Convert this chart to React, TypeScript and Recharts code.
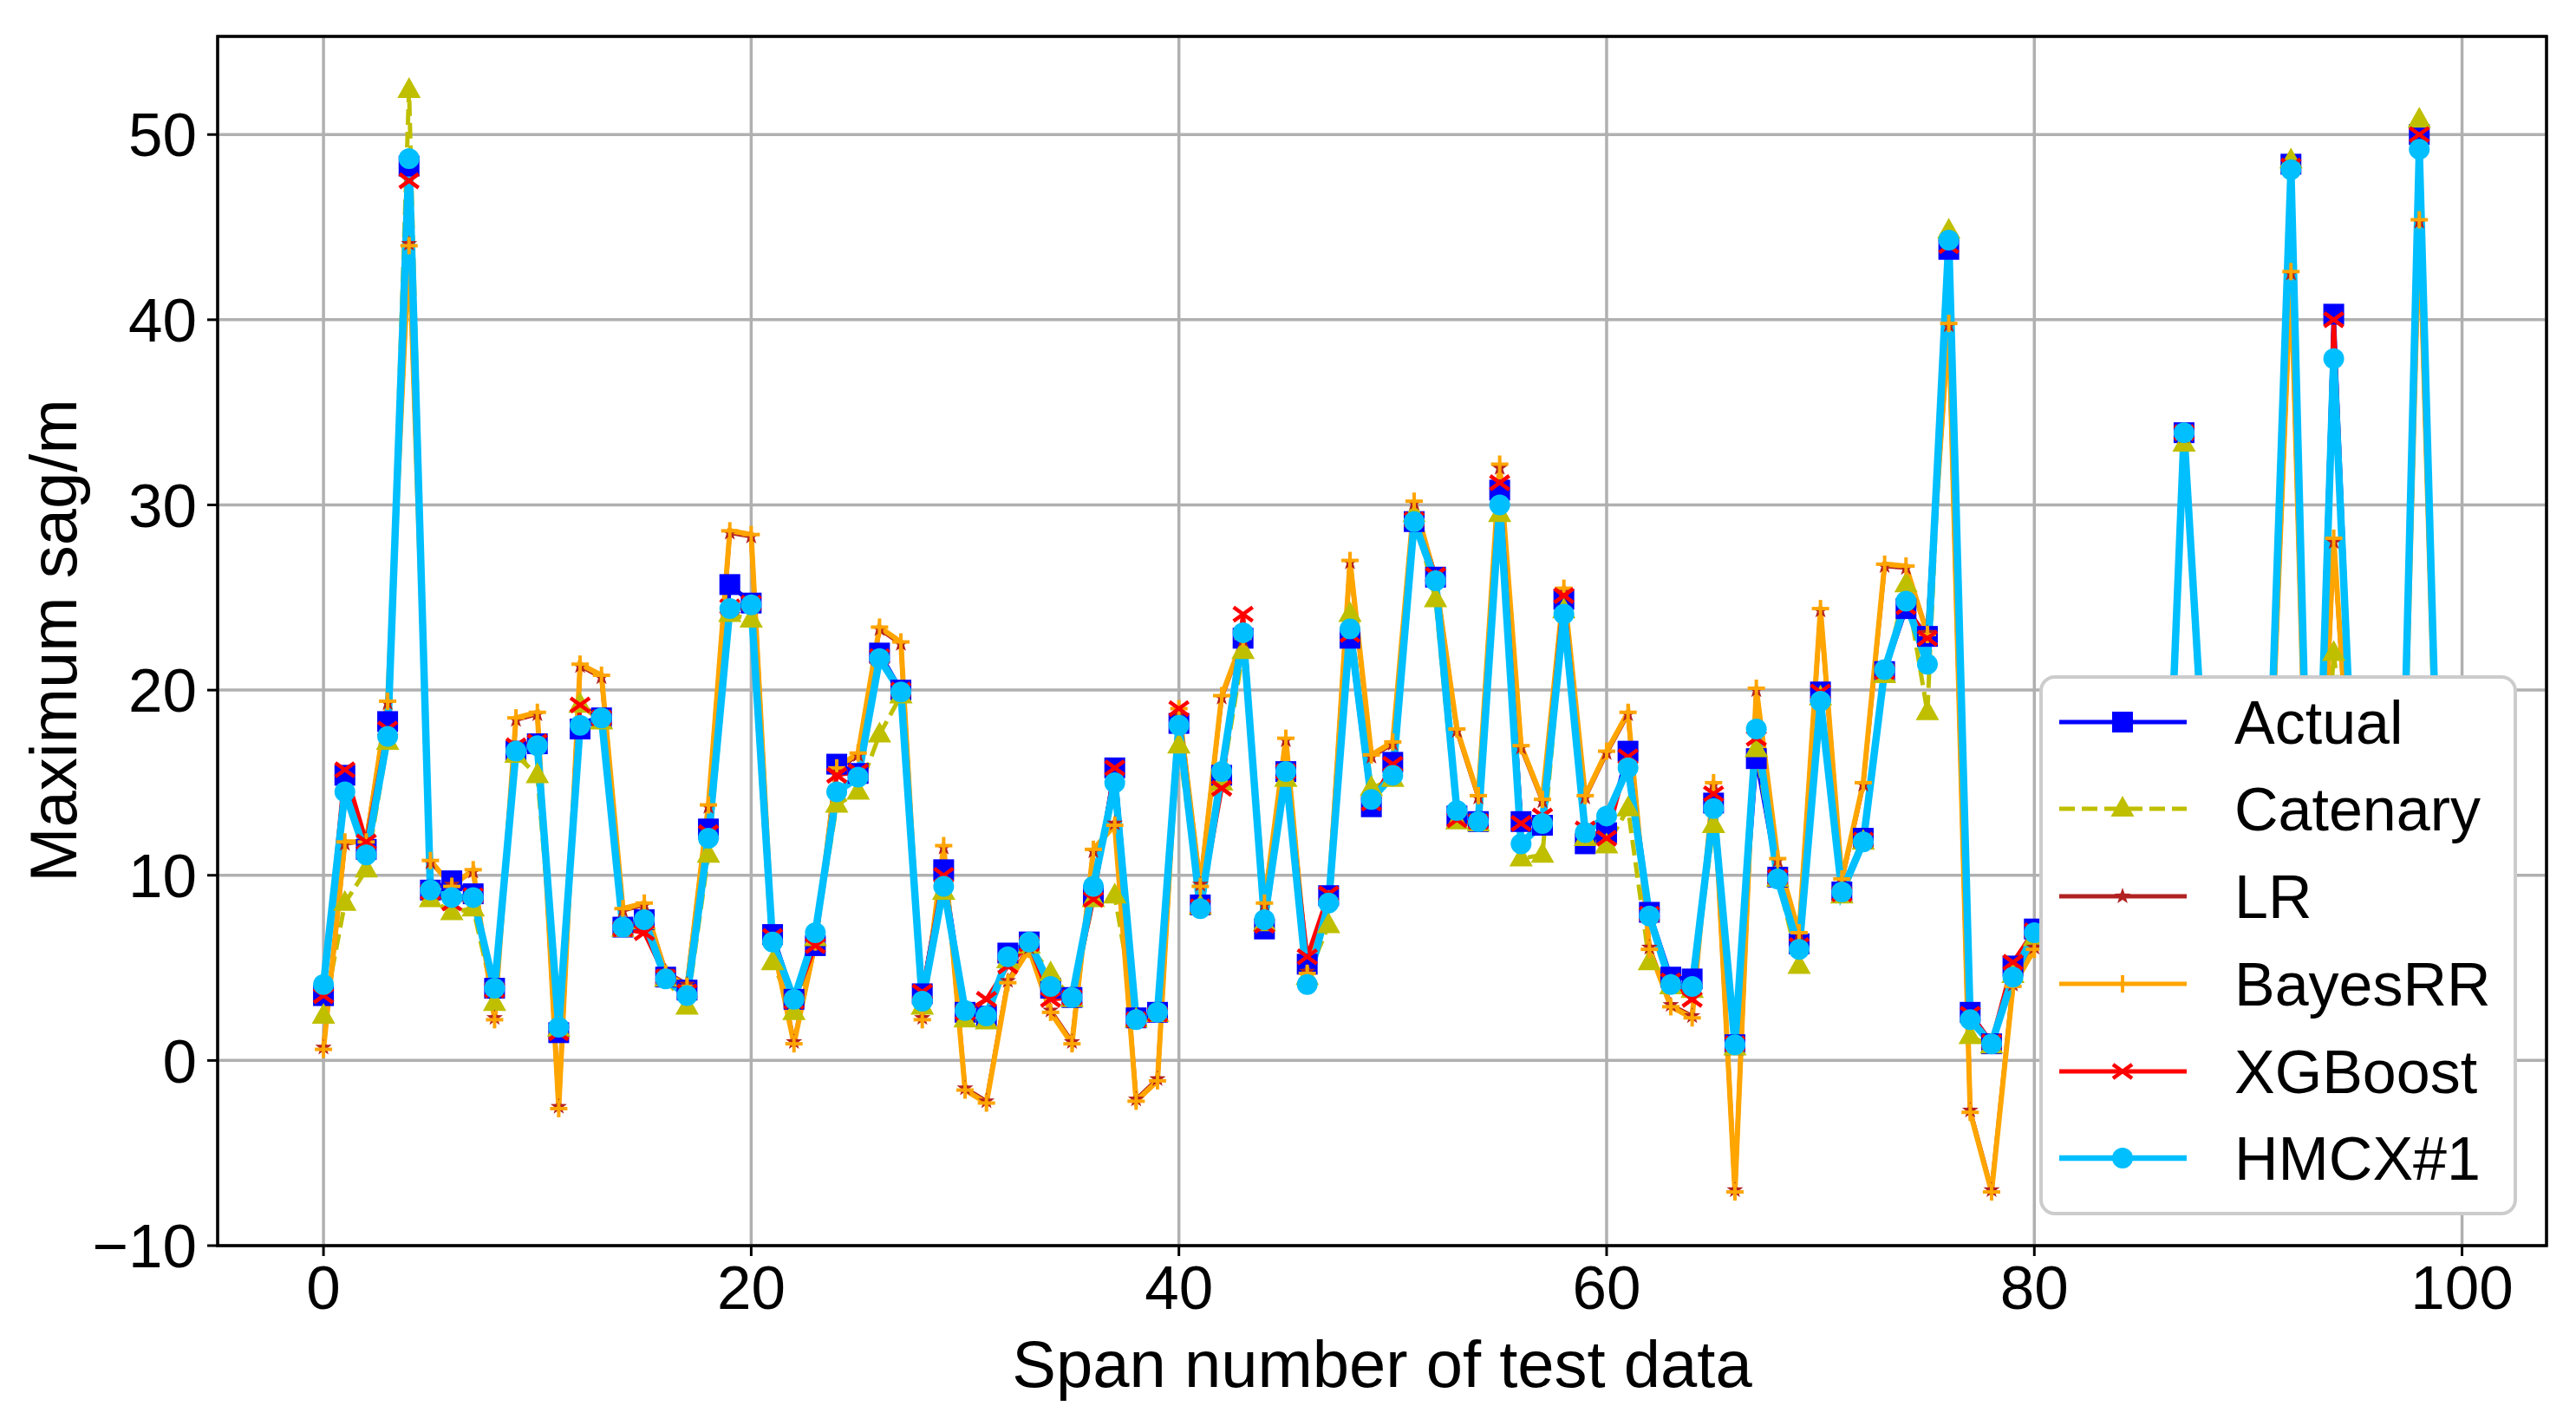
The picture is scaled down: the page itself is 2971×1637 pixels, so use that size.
import React from 'react';
import { LineChart, Line, XAxis, YAxis, CartesianGrid, ReferenceArea } from 'recharts';

const spans = Array.from({ length: 100 }, (_, i) => i);

const actual = [
  3.5, 15.4, 11.4, 18.3, 48.3, 9.2, 9.7, 9.0, 3.9, 16.7,
  17.1, 1.5, 17.9, 18.5, 7.2, 7.6, 4.5, 3.8, 12.5, 25.7,
  24.7, 6.8, 3.3, 6.2, 16.0, 15.5, 22.0, 20.0, 3.6, 10.3,
  2.6, 2.4, 5.8, 6.4, 3.9, 3.4, 8.9, 15.8, 2.3, 2.6,
  18.2, 8.4, 15.4, 22.8, 7.1, 15.6, 5.2, 8.9, 22.8, 13.7,
  16.1, 29.1, 26.1, 13.2, 12.9, 30.8, 12.9, 12.7, 24.9, 11.7,
  12.3, 16.7, 8.0, 4.5, 4.4, 13.9, 0.85, 16.3, 9.9, 6.3,
  19.9, 9.1, 12.0, 21.0, 24.4, 22.9, 43.8, 2.6, 0.9, 5.1,
  7.1, 8.5, 12.3, 6.0, 15.2, 10.4, 5.6, 33.9, 14.5, 9.0,
  18.0, 15.0, 48.4, 3.0, 40.3, 12.0, 7.5, 3.0, 50.0, 8.0,
];

const catenary = [
  2.4, 8.5, 10.3, 17.2, 52.4, 8.7, 8.0, 8.2, 3.1, 16.5,
  15.4, 1.7, 19.2, 18.3, 7.1, 7.5, 4.4, 2.9, 11.1, 24.1,
  23.8, 5.3, 2.6, 6.6, 13.8, 14.5, 17.6, 19.7, 2.9, 9.1,
  2.2, 2.1, 5.4, 6.2, 4.7, 3.3, 8.7, 8.9, 2.2, 2.5,
  17.0, 8.3, 15.0, 22.1, 7.4, 15.2, 4.5, 7.3, 24.1, 14.7,
  15.2, 29.5, 24.9, 12.9, 12.8, 29.5, 10.9, 11.1, 24.3, 12.0,
  11.6, 13.6, 5.3, 4.0, 3.8, 12.7, 0.7, 16.8, 9.8, 5.1,
  19.6, 8.9, 11.8, 20.8, 25.7, 18.8, 44.8, 1.3, 0.8, 4.6,
  6.6, 8.0, 11.9, 5.8, 14.8, 10.0, 5.9, 33.3, 14.2, 8.8,
  17.5, 14.6, 48.6, 3.5, 22.0, 11.5, 7.0, 3.2, 50.8, 7.8,
];

const lr = [
  0.7, 11.7, 11.9, 19.3, 44.1, 10.7, 9.5, 10.2, 2.3, 18.4,
  18.7, -2.5, 21.3, 20.7, 8.1, 8.4, 4.8, 4.1, 13.7, 28.5,
  28.3, 6.5, 1.0, 6.3, 15.7, 16.5, 23.3, 22.5, 2.3, 11.5,
  -1.5, -2.2, 4.3, 6.1, 2.7, 1.0, 11.3, 12.8, -2.1, -1.0,
  18.9, 9.5, 19.6, 22.7, 8.4, 17.3, 4.8, 8.8, 26.9, 16.4,
  17.1, 30.1, 26.1, 17.8, 14.2, 32.0, 16.9, 14.0, 25.4, 14.2,
  16.6, 18.7, 6.1, 3.0, 2.4, 14.9, -7.0, 20.0, 10.8, 6.8,
  24.3, 9.7, 14.9, 26.7, 26.6, 23.1, 39.7, -2.7, -7.0, 4.1,
  6.1, 7.1, 11.1, 4.6, 14.1, 9.1, 4.9, 33.7, 13.6, 8.1,
  17.1, 13.9, 42.5, 2.1, 28.0, 10.6, 6.1, 2.6, 45.3, 7.1,
];

const bayesRR = [
  0.6, 11.8, 11.8, 19.4, 44.0, 10.8, 9.4, 10.3, 2.2, 18.5,
  18.8, -2.6, 21.4, 20.8, 8.2, 8.5, 4.7, 4.0, 13.8, 28.6,
  28.4, 6.4, 0.9, 6.4, 15.8, 16.6, 23.4, 22.6, 2.2, 11.6,
  -1.6, -2.3, 4.2, 6.0, 2.6, 0.9, 11.4, 12.7, -2.2, -1.1,
  19.0, 9.4, 19.7, 22.8, 8.5, 17.4, 4.7, 8.7, 27.0, 16.5,
  17.2, 30.2, 26.0, 17.9, 14.3, 32.2, 17.0, 14.1, 25.5, 14.3,
  16.7, 18.8, 6.0, 2.9, 2.3, 15.0, -7.1, 20.1, 10.9, 6.9,
  24.4, 9.8, 15.0, 26.8, 26.7, 23.0, 39.8, -2.8, -7.1, 4.0,
  6.0, 7.0, 11.0, 4.5, 14.0, 9.0, 4.8, 33.8, 13.5, 8.0,
  17.0, 13.8, 42.6, 2.0, 28.2, 10.5, 6.0, 2.5, 45.4, 7.0,
];

const xgboost = [
  3.5, 15.7, 11.8, 17.9, 47.5, 9.1, 8.5, 8.9, 3.8, 17.0,
  17.2, 1.5, 19.2, 18.5, 7.1, 6.9, 4.5, 3.7, 12.3, 24.5,
  24.7, 6.7, 3.2, 6.2, 15.4, 15.6, 21.8, 20.0, 3.7, 10.0,
  2.6, 3.3, 5.1, 6.3, 3.3, 3.4, 8.7, 15.8, 2.2, 2.5,
  19.0, 8.3, 14.7, 24.1, 7.3, 15.6, 5.6, 9.0, 23.0, 13.9,
  16.0, 29.2, 26.2, 13.0, 12.9, 31.2, 12.8, 13.2, 25.1, 12.5,
  12.0, 16.4, 7.9, 4.3, 3.3, 14.4, 0.9, 17.4, 9.9, 6.2,
  19.9, 9.0, 11.9, 21.0, 24.5, 22.8, 44.0, 2.5, 1.0, 5.3,
  7.0, 8.4, 12.2, 5.9, 15.1, 10.3, 5.6, 33.9, 14.4, 8.9,
  17.9, 14.9, 48.3, 3.1, 40.0, 11.9, 7.4, 3.0, 50.0, 8.0,
];

const hmcx = [
  4.1, 14.5, 11.1, 17.5, 48.7, 9.2, 8.8, 8.8, 3.9, 16.7,
  17.0, 1.8, 18.1, 18.5, 7.2, 7.6, 4.4, 3.5, 12.0, 24.4,
  24.6, 6.4, 3.3, 6.9, 14.5, 15.3, 21.7, 19.9, 3.2, 9.4,
  2.7, 2.4, 5.6, 6.4, 4.0, 3.4, 9.4, 15.0, 2.2, 2.6,
  18.1, 8.2, 15.6, 23.1, 7.6, 15.6, 4.1, 8.5, 23.3, 14.1,
  15.4, 29.1, 25.9, 13.5, 12.9, 30.0, 11.7, 12.8, 24.1, 12.3,
  13.2, 15.8, 7.8, 4.1, 4.0, 13.6, 0.85, 17.9, 9.8, 6.0,
  19.4, 9.1, 11.8, 21.1, 24.8, 21.4, 44.3, 2.2, 0.9, 4.5,
  6.9, 8.2, 12.0, 6.1, 15.0, 10.1, 5.8, 33.9, 14.6, 9.1,
  17.8, 15.1, 48.1, 3.2, 37.9, 12.1, 7.6, 3.1, 49.2, 8.1,
];

const xTicks = [0, 20, 40, 60, 80, 100];
const yTicks = [-10, 0, 10, 20, 30, 40, 50];

const data = spans.map((i) => ({
  span: i,
  actual: actual[i],
  catenary: catenary[i],
  lr: lr[i],
  bayesRR: bayesRR[i],
  xgboost: xgboost[i],
  hmcx: hmcx[i],
}));

const FONT = '"Liberation Sans", Arial, Helvetica, sans-serif';

// marker shapes, drawn around (cx, cy)
const square = (cx: number, cy: number, color: string, k?: any) => (
  <rect key={k} x={cx - 12} y={cy - 12} width={24} height={24} fill={color} />
);
const triangle = (cx: number, cy: number, color: string, k?: any) => (
  <polygon key={k} points={`${cx},${cy - 15} ${cx - 13.5},${cy + 9} ${cx + 13.5},${cy + 9}`} fill={color} />
);
const star = (cx: number, cy: number, color: string, k?: any) => {
  const pts: string[] = [];
  for (let j = 0; j < 10; j++) {
    const r = j % 2 === 0 ? 10 : 4;
    const a = -Math.PI / 2 + (j * Math.PI) / 5;
    pts.push(`${cx + r * Math.cos(a)},${cy + r * Math.sin(a)}`);
  }
  return <polygon key={k} points={pts.join(' ')} fill={color} />;
};
const plus = (cx: number, cy: number, color: string, k?: any) => (
  <g key={k} stroke={color} strokeWidth={4}>
    <line x1={cx - 10} y1={cy} x2={cx + 10} y2={cy} />
    <line x1={cx} y1={cy - 10} x2={cx} y2={cy + 10} />
  </g>
);
const cross = (cx: number, cy: number, color: string, k?: any) => (
  <g key={k} stroke={color} strokeWidth={4.5}>
    <line x1={cx - 11} y1={cy - 8} x2={cx + 11} y2={cy + 8} />
    <line x1={cx - 11} y1={cy + 8} x2={cx + 11} y2={cy - 8} />
  </g>
);
const circle = (cx: number, cy: number, color: string, k?: any) => (
  <circle key={k} cx={cx} cy={cy} r={12} fill={color} />
);

const series = [
  { key: 'actual', name: 'Actual', color: '#0000ff', width: 5, legendWidth: 5, dash: undefined, shape: square },
  { key: 'catenary', name: 'Catenary', color: '#bfbf00', width: 5, legendWidth: 5, dash: '18 8', shape: triangle },
  { key: 'lr', name: 'LR', color: '#b22222', width: 5, legendWidth: 5, dash: undefined, shape: star },
  { key: 'bayesRR', name: 'BayesRR', color: '#ffa500', width: 6, legendWidth: 5, dash: undefined, shape: plus },
  { key: 'xgboost', name: 'XGBoost', color: '#ff0000', width: 5, legendWidth: 5, dash: undefined, shape: cross },
  { key: 'hmcx', name: 'HMCX#1', color: '#00bfff', width: 8.5, legendWidth: 6.5, dash: undefined, shape: circle },
];

const fmt = (v: number) => (v < 0 ? '\u2212' + Math.abs(v) : String(v));

const legendRows = [833, 933, 1034, 1135, 1236, 1336];

export default function App() {
  return (
    <div style={{ position: 'absolute', left: 0, top: 0, width: 2971, height: 1637, background: '#fff' }}>
      <LineChart width={2971} height={1637} data={data} margin={{ top: 42, right: 34, bottom: 0, left: 0 }}>
        <CartesianGrid stroke="#b0b0b0" strokeWidth={3.5} />
        <XAxis
          dataKey="span"
          type="number"
          domain={[-4.95, 103.95]}
          ticks={xTicks}
          allowDataOverflow
          height={200}
          axisLine={false}
          tickSize={12}
          tickMargin={11}
          tickLine={{ stroke: '#000', strokeWidth: 3 }}
          tick={{ fill: '#000', fontSize: 71, fontFamily: FONT }}
        />
        <YAxis
          type="number"
          domain={[-10, 55.3]}
          ticks={yTicks}
          allowDataOverflow
          width={251}
          axisLine={false}
          tickSize={12}
          tickMargin={12}
          tickFormatter={fmt}
          tickLine={{ stroke: '#000', strokeWidth: 3 }}
          tick={{ fill: '#000', fontSize: 71, fontFamily: FONT }}
        />
        {series.map((s) => (
          <Line
            key={s.key}
            type="linear"
            dataKey={s.key}
            name={s.name}
            stroke={s.color}
            strokeWidth={s.width}
            strokeDasharray={s.dash}
            dot={(p: any) => s.shape(p.cx, p.cy, s.color, `${s.key}-${p.index}`)}
            activeDot={false}
            isAnimationActive={false}
          />
        ))}
        <ReferenceArea
          x1={-4.95}
          x2={103.95}
          y1={-10}
          y2={55.3}
          fill="none"
          fillOpacity={0}
          stroke="#000"
          strokeWidth={3.5}
          ifOverflow="visible"
        />
      </LineChart>
      <svg
        width={2971}
        height={1637}
        style={{ position: 'absolute', left: 0, top: 0, pointerEvents: 'none' }}
        fontFamily={FONT}
      >
        <text x={1594} y={1600} textAnchor="middle" fontSize={76} fill="#000">
          Span number of test data
        </text>
        <text x={88} y={739} textAnchor="middle" fontSize={76} fill="#000" transform="rotate(-90 88 739)">
          Maximum sag/m
        </text>
        <rect x={2354} y={781} width={547} height={619} rx={16} fill="#fff" stroke="#cccccc" strokeWidth={4} />
        {series.map((s, i) => (
          <g key={s.key}>
            <line
              x1={2375}
              y1={legendRows[i]}
              x2={2522}
              y2={legendRows[i]}
              stroke={s.color}
              strokeWidth={s.legendWidth}
              strokeDasharray={s.dash}
            />
            {s.shape(2448, legendRows[i], s.color)}
            <text x={2577} y={legendRows[i] + 25} fontSize={70} fill="#000">
              {s.name}
            </text>
          </g>
        ))}
      </svg>
    </div>
  );
}
